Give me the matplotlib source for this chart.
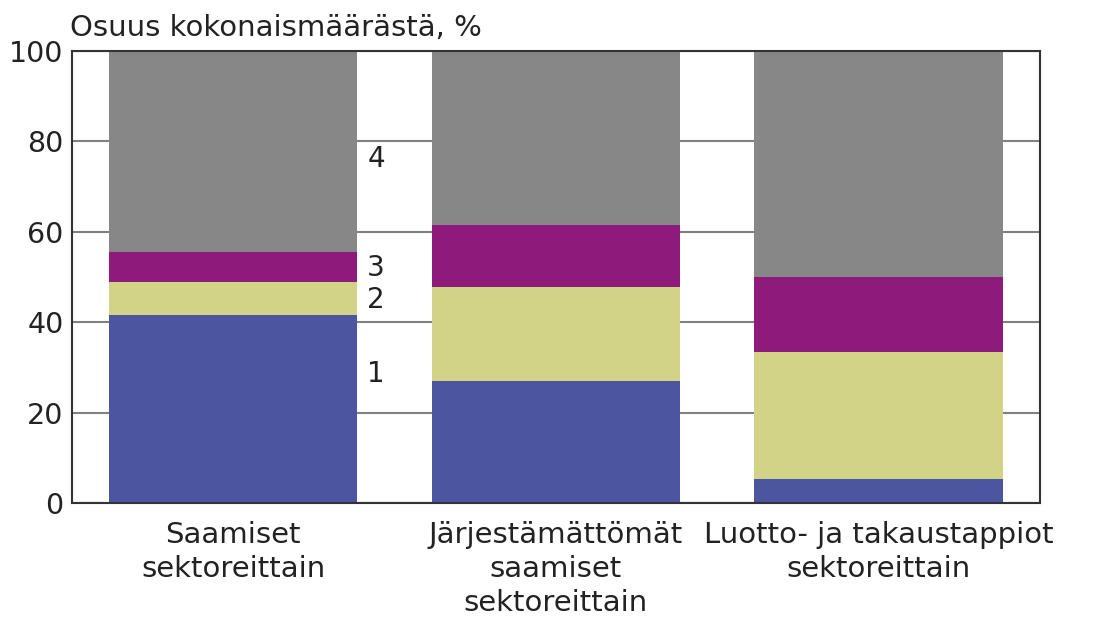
import matplotlib.pyplot as plt
import numpy as np

categories = ["Saamiset\nsektoreittain",
              "Järjestämättömät\nsaamiset\nsektoreittain",
              "Luotto- ja takaustappiot\nsektoreittain"]
seg1 = [41.5, 27.0, 5.3]
seg2 = [7.5, 20.7, 28.0]
seg3 = [6.5, 13.8, 16.7]
seg4 = [44.5, 38.5, 50.0]
seg_names = ["1", "2", "3", "4"]
label_y = [28.5, 45, 52, 76]
colors = ["#4B55A0", "#D2D387", "#8E1A7C", "#878787"]

fig = plt.figure(figsize=(10.96, 6.19), dpi=100)
ax = fig.add_axes([0.0657, 0.1874, 0.883, 0.7302])

x = np.arange(len(categories))
bottom = np.zeros(len(categories))
for vals, c in zip([seg1, seg2, seg3, seg4], colors):
    ax.bar(x, vals, width=0.77, bottom=bottom, color=c, zorder=2)
    bottom += np.array(vals)

for name, yv in zip(seg_names, label_y):
    ax.text(0.443, yv, name, ha="center", va="center", fontsize=20, color="#222222")

ax.set_xlim(-0.5, 2.5)
ax.set_ylim(0, 100)
ax.set_yticks([0, 20, 40, 60, 80, 100])
ax.yaxis.grid(True, color="#808080", linewidth=1.5, zorder=1)
ax.set_axisbelow(True)
ax.set_xticks(x)
ax.set_xticklabels(categories, fontsize=21, color="#222222", linespacing=1.27)
ax.tick_params(axis="both", length=0, colors="#222222")
ax.tick_params(axis="y", labelsize=20.5, pad=6)
ax.tick_params(axis="x", pad=13)
for s in ax.spines.values():
    s.set_color("#333333")
    s.set_linewidth(1.5)

fig.text(0.064, 0.955, "Osuus kokonaismäärästä, %", fontsize=21, color="#222222",
         ha="left", va="center")

fig.savefig("out.png", dpi=100)
